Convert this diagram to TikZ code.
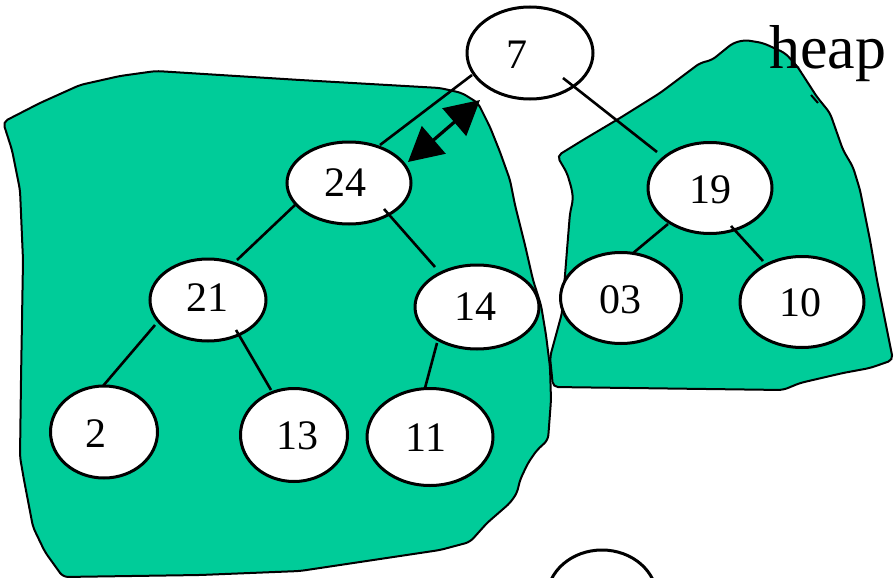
\documentclass[tikz,border=0pt]{standalone}
\usepackage{fontspec}
\setmainfont{Liberation Serif}
\usetikzlibrary{shapes.geometric,arrows.meta,calc}
\definecolor{blobgreen}{RGB}{0,204,153}
\begin{document}
\begin{tikzpicture}[x=1pt,y=-1pt,
  blob/.style={fill=blobgreen,draw=black,line width=2pt,rounded corners=5pt},
  ell/.style={ellipse,draw=black,fill=white,line width=3pt,inner sep=0pt},
  num/.style={font=\fontsize{42}{42}\selectfont,inner sep=0pt},
  edge/.style={draw=black,line width=2.6pt},
  dbl/.style={draw=black,line width=3.2pt,{Triangle[length=34pt,width=36pt]}-{Triangle[length=34pt,width=36pt]}}]
\useasboundingbox (0,0) rectangle (894,578);
% left blob
\draw[blob] (3,122) -- (40,103) -- (80,85) -- (120,76) -- (156,71) -- (300,80) -- (440,88)
  -- (462,93) -- (478,103) -- (490,127) -- (500,152) -- (510,180) -- (515,205) -- (525,245)
  -- (533,280) -- (541,305) -- (546,335) -- (550,367) -- (551,400) -- (548,440) -- (537,450)
  -- (528,463) -- (520,480) -- (517,493) -- (510,503) -- (487,523) -- (470,542) -- (440,550)
  -- (300,571) -- (200,575) -- (63,577) -- (45,552) -- (33,527) -- (24,480) -- (20,457)
  -- (21,380) -- (23,260) -- (20,190) -- (12,150) -- cycle;
% right blob
\draw[blob] (557,156) -- (583,140) -- (620,118) -- (660,93) -- (700,63) -- (712,60) -- (733,43)
  -- (745,40) -- (763,43) -- (785,53) -- (797,66) -- (808,83) -- (817,97) -- (830,113)
  -- (843,150) -- (853,167) -- (860,190) -- (870,240) -- (877,280) -- (893,360) -- (870,368)
  -- (843,373) -- (800,383) -- (783,390) -- (553,387) -- (550,357) -- (562,313) -- (567,250)
  -- (570,213) -- (573,200) -- (572,190) -- (567,173) -- cycle;
\draw[line width=2pt] (811,95) -- (818,103);
% nodes
\node[ell,minimum width=126pt,minimum height=92pt,label={[num,shift={(-13,2)}]center:7}] (n7) at (530,53) {};
\node[ell,minimum width=124pt,minimum height=82pt,label={[num,shift={(-4,0)}]center:24}] (n24) at (349,183) {};
\node[ell,minimum width=116pt,minimum height=82pt,label={[num,shift={(-1,-2)}]center:21}] (n21) at (208,300) {};
\node[ell,minimum width=124pt,minimum height=84pt,label={[num,shift={(-2,0)}]center:14}] (n14) at (477,307) {};
\node[ell,minimum width=107pt,minimum height=92pt,label={[num,shift={(-8,2)}]center:2}] (n2) at (104,432) {};
\node[ell,minimum width=107pt,minimum height=93pt,label={[num,shift={(3,1)}]center:13}] (n13) at (294,435) {};
\node[ell,minimum width=126pt,minimum height=97pt,label={[num,shift={(-4,1)}]center:11}] (n11) at (430,437) {};
\node[ell,minimum width=124pt,minimum height=91pt,label={[num,shift={(0,2)}]center:19}] (n19) at (710,188) {};
\node[ell,minimum width=121pt,minimum height=91pt,label={[num,shift={(-1,2)}]center:03}] (n03) at (621,298) {};
\node[ell,minimum width=124pt,minimum height=91pt,label={[num,shift={(-2,1)}]center:10}] (n10) at (802,302) {};
\node[ell,minimum width=110pt,minimum height=96pt] (nb) at (602,598) {};
% edges
\draw[edge] ($(n7)+(-58,22)$) -- ($(n24)+(31,-38)$);
\draw[edge] ($(n7)+(33,25)$) -- ($(n19)+(-53,-36)$);
\draw[edge] ($(n24)+(-54,22)$) -- ($(n21)+(29,-40)$);
\draw[edge] ($(n24)+(35,26)$) -- ($(n14)+(-42,-40)$);
\draw[edge] ($(n21)+(-53,25)$) -- ($(n2)+(-1,-46)$);
\draw[edge] ($(n21)+(28,30)$) -- ($(n13)+(-23,-45)$);
\draw[edge] ($(n14)+(-40,36)$) -- ($(n11)+(-5,-49)$);
\draw[edge] ($(n19)+(-42,36)$) -- ($(n03)+(11,-44)$);
\draw[edge] ($(n19)+(21,38)$) -- ($(n10)+(-39,-41)$);
% double arrow
\coordinate (a1) at (408,162);
\coordinate (a2) at (480,100);
\draw[dbl] (a1) -- (a2);
% label
\node[anchor=base west,inner sep=0pt,font=\fontsize{62}{62}\selectfont] (heap) at (769,68) {heap};
\end{tikzpicture}
\end{document}
